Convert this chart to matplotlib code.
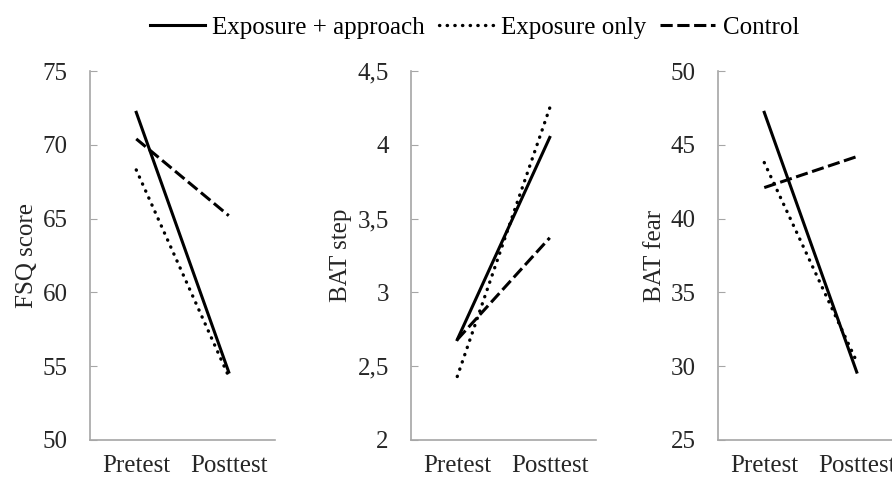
import matplotlib
matplotlib.use("Agg")
import matplotlib.pyplot as plt
from matplotlib.ticker import FuncFormatter
from matplotlib.lines import Line2D

plt.rcParams['font.family'] = ['Liberation Serif', 'DejaVu Serif']

# Data
times = ["Pretest", "Posttest"]
groups = ["Exposure + approach", "Exposure only", "Control"]

fsq = {"Exposure + approach": [72.2, 54.6],
       "Exposure only": [68.3, 54.3],
       "Control": [70.4, 65.2]}
bat_step = {"Exposure + approach": [2.68, 4.05],
            "Exposure only": [2.43, 4.25],
            "Control": [2.68, 3.37]}
bat_fear = {"Exposure + approach": [47.2, 29.6],
            "Exposure only": [43.8, 30.3],
            "Control": [42.1, 44.2]}

panels = [
    ("FSQ score", fsq, (50, 75), [50, 55, 60, 65, 70, 75], -0.28),
    ("BAT step", bat_step, (2, 4.5), [2, 2.5, 3, 3.5, 4, 4.5], -0.32),
    ("BAT fear", bat_fear, (25, 50), [25, 30, 35, 40, 45, 50], -0.28),
]

styles = {
    "Exposure + approach": dict(linestyle="-", linewidth=2.2),
    "Exposure only": dict(linestyle=(0, (0.1, 2.2)), dash_capstyle="round", linewidth=2.4),
    "Control": dict(linestyle=(0, (4, 1.5)), linewidth=2.2),
}

fs = 18
gray = "#a6a6a6"
txt = "#262626"

fig = plt.figure(figsize=(8.92, 4.82), dpi=100)
lefts = [90, 411, 718]
for left, (label, data, ylim, ticks, lx) in zip(lefts, panels):
    ax = fig.add_axes([left / 892, 42 / 482, 185 / 892, 369 / 482])
    x = [0, 1]
    for g in groups:
        ax.plot(x, data[g], color="black", **styles[g])
    ax.set_xlim(-0.5, 1.5)
    ax.set_ylim(*ylim)
    ax.set_yticks(ticks)
    ax.yaxis.set_major_formatter(FuncFormatter(lambda v, p: ("%g" % v).replace(".", ",")))
    ax.set_xticks(x)
    ax.set_xticklabels(times)
    ax.tick_params(axis="y", direction="in", length=5, color=gray, pad=16, labelsize=fs, labelcolor=txt)
    ax.tick_params(axis="x", length=0, pad=11, labelsize=fs, labelcolor=txt)
    for s in ["top", "right"]:
        ax.spines[s].set_visible(False)
    for s in ["left", "bottom"]:
        ax.spines[s].set_color(gray)
        ax.spines[s].set_linewidth(1.2)
    ax.set_ylabel(label, fontsize=fs, color=txt)
    ax.yaxis.set_label_coords(lx, 0.5)

handles = [Line2D([], [], color="black", **styles[g]) for g in groups]
fig.legend(handles, groups, loc="upper center", bbox_to_anchor=(0.532, 1.012), ncol=3,
           frameon=False, fontsize=fs, handlelength=2.2, handletextpad=0.3, columnspacing=0.55)

fig.savefig("out.png", dpi=100)
